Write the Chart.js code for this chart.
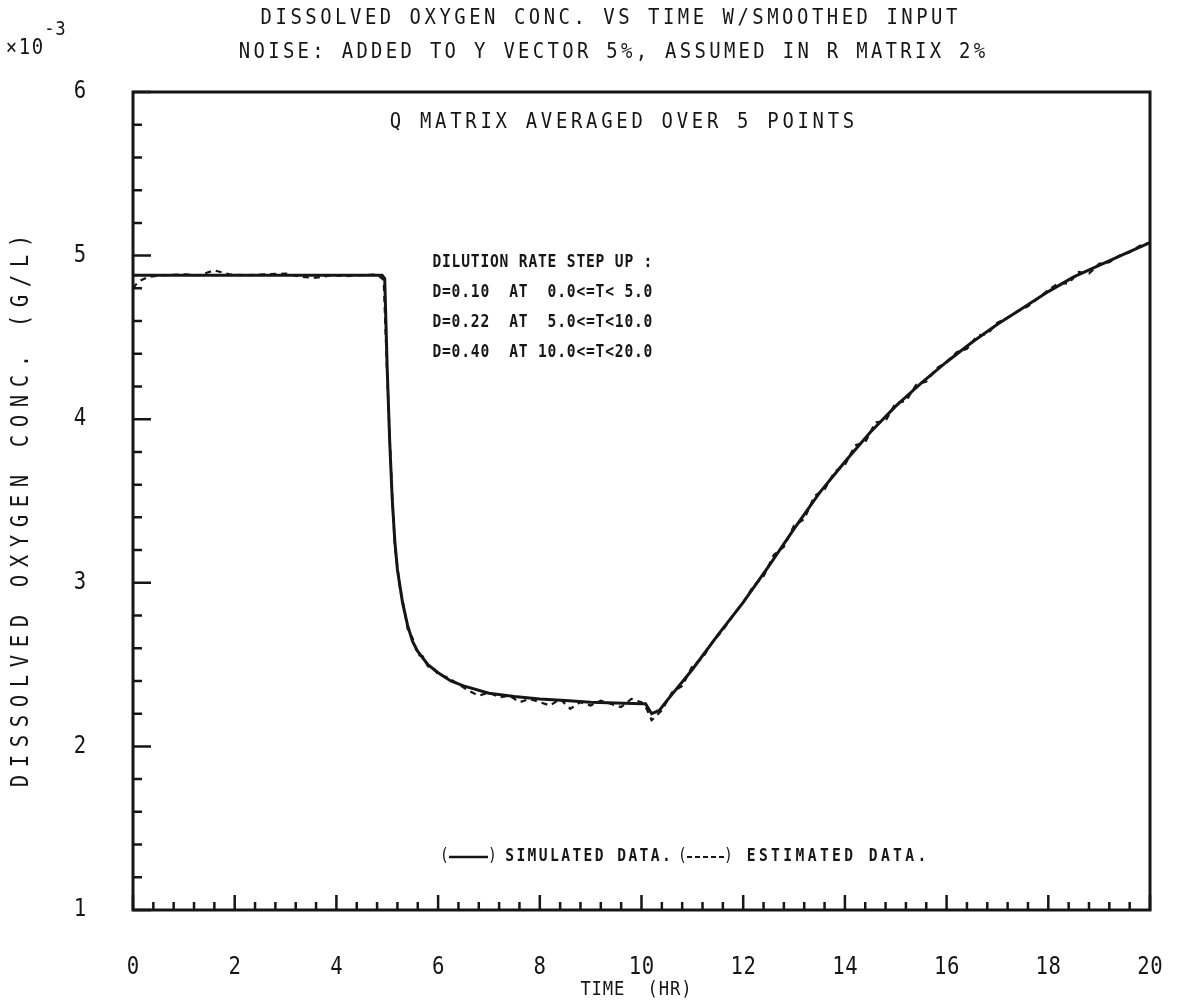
<!DOCTYPE html>
<html>
<head>
<meta charset="utf-8">
<script src="https://cdn.jsdelivr.net/npm/chart.js@4"></script>
<style>
  body { margin: 0; background: #fff; }
  #wrap { width: 1181px; height: 1000px; }
</style>
</head>
<body>
<div id="wrap"><canvas id="chart" width="1181" height="1000"></canvas></div>
<script>
// simulated data (solid line), time in hr, DO in 1e-3 g/L
const simTime = [0, 1, 2, 3, 4, 4.9, 4.95, 5.0, 5.05, 5.1, 5.15, 5.2, 5.25, 5.3, 5.4, 5.5, 5.6, 5.8, 6.0, 6.25, 6.5,
  7.0, 7.5, 8.0, 8.5, 9.0, 9.5, 10.0, 10.08, 10.2, 10.35, 10.5, 11.0, 11.5, 12.0, 12.5, 13.0, 13.5, 14.0, 14.5,
  15.0, 15.5, 16.0, 16.5, 17.0, 17.5, 18.0, 18.5, 19.0, 19.5, 20.0];
const simDO = [4.88, 4.88, 4.88, 4.88, 4.88, 4.88, 4.86, 4.30, 3.85, 3.50, 3.25, 3.08, 2.98, 2.88, 2.74, 2.64, 2.58, 2.50, 2.45, 2.40, 2.37,
  2.325, 2.305, 2.29, 2.28, 2.27, 2.265, 2.26, 2.26, 2.20, 2.22, 2.28, 2.47, 2.68, 2.88, 3.10, 3.33, 3.55, 3.74, 3.92,
  4.08, 4.22, 4.35, 4.47, 4.58, 4.68, 4.78, 4.87, 4.94, 5.01, 5.08];

// estimated data (dashed line)
const estTime = [0, 0.1, 0.3, 0.6, 1.0, 1.3, 1.6, 1.9, 2.2, 2.6, 3.0, 3.3, 3.6, 3.9, 4.2, 4.5, 4.8, 4.93,
  5.0, 5.05, 5.1, 5.15, 5.2, 5.25, 5.3, 5.4, 5.5, 5.6, 5.7, 5.8, 5.9, 6.0, 6.2, 6.4, 6.6, 6.8, 7.0, 7.2, 7.4, 7.6, 7.8,
  8.0, 8.2, 8.4, 8.6, 8.8, 9.0, 9.2, 9.4, 9.6, 9.8, 10.0, 10.1, 10.2, 10.3, 10.4, 10.6, 10.8, 11.0, 11.2, 11.4, 11.6, 11.8,
  12.0, 12.2, 12.4, 12.6, 12.8, 13.0, 13.2, 13.4, 13.6, 13.8, 14.0, 14.2, 14.4, 14.6, 14.8, 15.0, 15.2, 15.4, 15.6, 15.8,
  16.0, 16.2, 16.4, 16.6, 16.8, 17.0, 17.2, 17.4, 17.6, 17.8, 18.0, 18.2, 18.4, 18.6, 18.8, 19.0, 19.2, 19.4, 19.6, 19.8, 20.0];
const estDO = [4.80, 4.84, 4.87, 4.88, 4.885, 4.88, 4.91, 4.885, 4.88, 4.885, 4.89, 4.87, 4.865, 4.88, 4.875, 4.88, 4.885, 4.85,
  4.25, 3.88, 3.52, 3.22, 3.10, 2.96, 2.90, 2.72, 2.66, 2.56, 2.55, 2.49, 2.48, 2.44, 2.42, 2.38, 2.34, 2.31, 2.33, 2.30, 2.31, 2.27, 2.29,
  2.27, 2.25, 2.29, 2.23, 2.27, 2.25, 2.28, 2.26, 2.24, 2.29, 2.27, 2.23, 2.16, 2.19, 2.22, 2.33, 2.37, 2.49, 2.54, 2.64, 2.71, 2.80,
  2.88, 2.98, 3.04, 3.17, 3.22, 3.35, 3.39, 3.53, 3.57, 3.68, 3.72, 3.84, 3.86, 3.98, 3.99, 4.10, 4.11, 4.21, 4.23, 4.31,
  4.35, 4.41, 4.43, 4.51, 4.52, 4.59, 4.62, 4.66, 4.69, 4.74, 4.79, 4.83, 4.83, 4.90, 4.89, 4.95, 4.96, 5.00, 5.02, 5.06, 5.08];

const xTickLabels = [0, 2, 4, 6, 8, 10, 12, 14, 16, 18, 20];
const yTickLabels = [1, 2, 3, 4, 5, 6];

const titleLines = ["DISSOLVED OXYGEN CONC. VS TIME W/SMOOTHED INPUT",
                    "NOISE: ADDED TO Y VECTOR 5%, ASSUMED IN R MATRIX 2%"];
const subTitle = "Q MATRIX AVERAGED OVER 5 POINTS";
const noteLines = ["DILUTION RATE STEP UP :",
                   "D=0.10  AT  0.0<=T< 5.0",
                   "D=0.22  AT  5.0<=T<10.0",
                   "D=0.40  AT 10.0<=T<20.0"];
const xTitle = "TIME  (HR)";
const yTitle = "DISSOLVED OXYGEN CONC. (G/L)";

const INK = "#161616";
const FONT = '"DejaVu Sans Mono", "Liberation Mono", monospace';

// draw a string with fixed pitch, narrow glyphs like the pen plotter font
function plotText(ctx, str, x, y, size, pitch, align, weight) {
  const sx = 0.86;
  const n = str.length;
  const total = n * pitch;
  const left = align === "center" ? x - total / 2 : (align === "right" ? x - total : x);
  ctx.save();
  ctx.font = (weight || "normal") + " " + size + "px " + FONT;
  ctx.fillStyle = INK;
  ctx.textAlign = "left";
  ctx.textBaseline = "middle";
  const w = ctx.measureText(str).width;
  const ls = (total / sx - w) / n;
  if ("letterSpacing" in ctx) ctx.letterSpacing = ls + "px";
  ctx.translate(left + (ls * sx) / 2, y);
  ctx.scale(sx, 1);
  ctx.fillText(str, 0, 0);
  ctx.restore();
}

const plotterDecor = {
  id: "plotterDecor",
  afterDraw(chart) {
    const { ctx, chartArea: a, scales: { x, y } } = chart;
    ctx.save();
    ctx.strokeStyle = INK;
    ctx.lineWidth = 3;
    ctx.strokeRect(a.left, a.top, a.right - a.left, a.bottom - a.top);

    // inward tick marks
    ctx.lineWidth = 2.5;
    ctx.beginPath();
    for (let i = 0; i <= 50; i++) {
      const px = x.getPixelForValue(i * 0.4);
      const len = i % 5 === 0 ? 15 : 8;
      ctx.moveTo(px, a.bottom);
      ctx.lineTo(px, a.bottom - len);
    }
    for (let i = 0; i <= 25; i++) {
      const py = y.getPixelForValue(1 + i * 0.2);
      const len = i % 5 === 0 ? 18 : 9;
      ctx.moveTo(a.left, py);
      ctx.lineTo(a.left + len, py);
    }
    ctx.stroke();

    // tick labels
    xTickLabels.forEach(v => plotText(ctx, String(v), x.getPixelForValue(v), 968, 24, 13, "center"));
    yTickLabels.forEach(v => plotText(ctx, String(v), 80, y.getPixelForValue(v), 24, 13, "center"));
    plotText(ctx, "×10", 5, 48, 22, 13, "left");
    plotText(ctx, "-3", 44, 30, 20, 11, "left");

    // titles and notes
    plotText(ctx, titleLines[0], 609, 18, 22, 14.9, "center");
    plotText(ctx, titleLines[1], 612, 52, 22, 14.7, "center");
    plotText(ctx, subTitle, 622, 122, 22, 15.1, "center");
    noteLines.forEach((s, i) => plotText(ctx, s, 432, 263 + i * 30, 17, 9.6, "left", "bold"));
    plotText(ctx, xTitle, 636, 990, 20, 11.2, "center");

    ctx.save();
    ctx.translate(22, 511);
    ctx.rotate(-Math.PI / 2);
    plotText(ctx, yTitle, 0, 0, 24, 20, "center");
    ctx.restore();

    // legend line
    const ly = 857;
    plotText(ctx, "(", 440, ly, 17, 9, "left");
    plotText(ctx, ")", 488, ly, 17, 9, "left");
    plotText(ctx, "SIMULATED DATA.", 504, ly, 17, 11.2, "left", "bold");
    plotText(ctx, "(", 678, ly, 17, 9, "left");
    plotText(ctx, ")", 724, ly, 17, 9, "left");
    plotText(ctx, "ESTIMATED DATA.", 745, ly, 17, 12.2, "left", "bold");
    ctx.lineWidth = 2.5;
    ctx.beginPath();
    ctx.moveTo(449, ly);
    ctx.lineTo(488, ly);
    ctx.stroke();
    ctx.setLineDash([5, 3]);
    ctx.lineWidth = 2;
    ctx.beginPath();
    ctx.moveTo(687, ly);
    ctx.lineTo(724, ly);
    ctx.stroke();
    ctx.restore();
  }
};

new Chart(document.getElementById("chart"), {
  type: "line",
  data: {
    datasets: [
      {
        label: "Estimated data",
        data: estTime.map((t, i) => ({ x: t, y: estDO[i] })),
        borderColor: INK,
        borderWidth: 2.2,
        borderDash: [6, 5],
        pointRadius: 0,
        tension: 0
      },
      {
        label: "Simulated data",
        data: simTime.map((t, i) => ({ x: t, y: simDO[i] })),
        borderColor: INK,
        borderWidth: 3,
        pointRadius: 0,
        tension: 0
      }
    ]
  },
  options: {
    responsive: false,
    animation: false,
    devicePixelRatio: 1,
    layout: { padding: { left: 133, right: 31, top: 92, bottom: 90 } },
    plugins: { legend: { display: false }, tooltip: { enabled: false } },
    scales: {
      x: { type: "linear", min: 0, max: 20, display: false },
      y: { type: "linear", min: 1, max: 6, display: false }
    }
  },
  plugins: [plotterDecor]
});
</script>
</body>
</html>
